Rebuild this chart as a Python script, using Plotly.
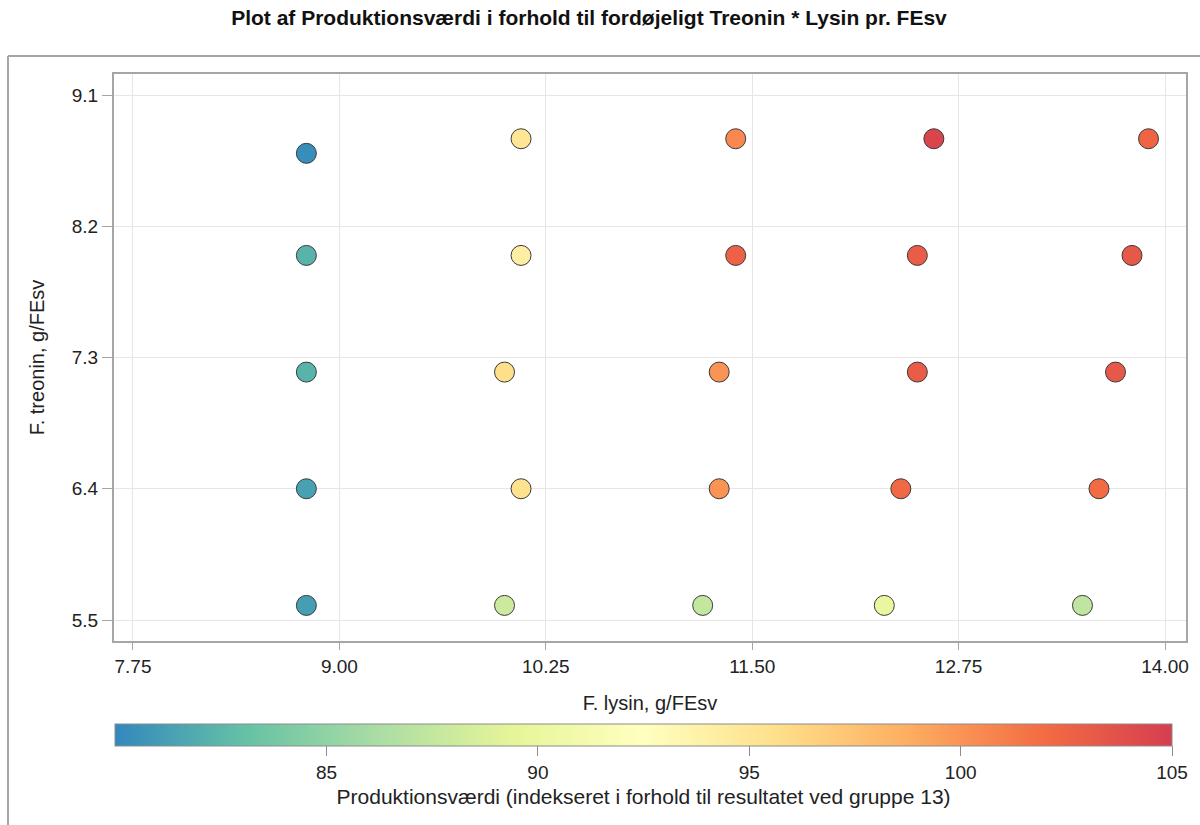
import plotly.graph_objects as go

# Feed composition per group (g per FEsv) and resulting production value index
lysin = [8.8, 8.8, 8.8, 8.8, 8.8,
         10.1, 10.1, 10.0, 10.1, 10.0,
         11.4, 11.4, 11.3, 11.3, 11.2,
         12.6, 12.5, 12.5, 12.4, 12.3,
         13.9, 13.8, 13.7, 13.6, 13.5]
treonin = [8.7, 8.0, 7.2, 6.4, 5.6,
           8.8, 8.0, 7.2, 6.4, 5.6,
           8.8, 8.0, 7.2, 6.4, 5.6,
           8.8, 8.0, 7.2, 6.4, 5.6,
           8.8, 8.0, 7.2, 6.4, 5.6]
produktionsvaerdi = [80.3, 82.3, 82.3, 81.3, 81.2,
                     95.0, 94.2, 95.6, 95.4, 88.0,
                     100.6, 102.6, 100.0, 100.0, 87.5,
                     104.6, 103.0, 103.0, 102.2, 90.0,
                     102.5, 103.3, 103.3, 102.0, 87.3]

x_ticks = [7.75, 9.00, 10.25, 11.50, 12.75, 14.00]
y_ticks = [5.5, 6.4, 7.3, 8.2, 9.1]
cbar_ticks = [85, 90, 95, 100, 105]

spectral9 = ["#3288bd", "#66c2a5", "#abdda4", "#e6f598", "#ffffbf",
             "#fee08b", "#fdae61", "#f46d43", "#d53e4f"]
colorscale = [[i / (len(spectral9) - 1), c] for i, c in enumerate(spectral9)]

FONT = "Liberation Sans, Arial, sans-serif"
GRID = "#e6e6e6"
FRAME = "#a6a6a6"

fig = go.Figure(go.Scatter(
    x=lysin, y=treonin, mode="markers",
    marker=dict(
        size=20, color=produktionsvaerdi, colorscale=colorscale,
        cmin=80, cmax=105,
        line=dict(color="#3a3a3a", width=1),
        colorbar=dict(
            orientation="h", x=0.001, xanchor="left", y=-0.146, yanchor="top",
            lenmode="pixels", len=1057, thickness=22,
            outlinecolor="#8c8c8c", outlinewidth=1,
            tickvals=cbar_ticks, ticks="outside", ticklen=10, tickcolor="#8c8c8c",
            tickfont=dict(family=FONT, size=19, color="#222"),
            title=dict(text="Produktionsværdi (indekseret i forhold til resultatet ved gruppe 13)",
                       side="bottom", font=dict(family=FONT, size=21, color="#222")),
            xpad=0, ypad=0,
        ),
    ),
    hoverinfo="x+y",
))

fig.update_layout(
    width=1200, height=825,
    margin=dict(l=114, r=14, t=74, b=184),
    paper_bgcolor="white", plot_bgcolor="white",
    font=dict(family=FONT, size=19, color="#222"),
    title=dict(text="<b>Plot af Produktionsværdi i forhold til fordøjeligt Treonin * Lysin pr. FEsv</b>",
               x=589 / 1200, xanchor="center", y=1 - 18 / 825, yanchor="middle",
               font=dict(family=FONT, size=21, color="#111")),
    showlegend=False,
    xaxis=dict(
        range=[7.635, 14.127], tickvals=x_ticks, ticktext=[f"{v:.2f}" for v in x_ticks],
        showgrid=True, gridcolor=GRID, zeroline=False,
        showline=True, linecolor=FRAME, linewidth=2, mirror=True,
        ticks="outside", ticklen=7, tickcolor=FRAME,
        title=dict(text="F. lysin, g/FEsv", font=dict(size=20), standoff=20),
    ),
    yaxis=dict(
        range=[5.356, 9.244], tickvals=y_ticks, ticktext=[f"{v:.1f}" for v in y_ticks],
        showgrid=True, gridcolor=GRID, zeroline=False,
        showline=True, linecolor=FRAME, linewidth=2, mirror=True,
        ticks="outside", ticklen=10, tickcolor=FRAME,
        title=dict(text="F. treonin, g/FEsv", font=dict(size=20), standoff=22),
    ),
    shapes=[
        dict(type="line", xref="paper", yref="paper",
             x0=(8 - 114) / 1072, x1=(1200 - 114) / 1072,
             y0=(641 - 56) / 567, y1=(641 - 56) / 567,
             line=dict(color=FRAME, width=2)),
        dict(type="line", xref="paper", yref="paper",
             x0=(8 - 114) / 1072, x1=(8 - 114) / 1072,
             y0=(641 - 56) / 567, y1=(641 - 830) / 567,
             line=dict(color=FRAME, width=2)),
    ],
)

fig.write_html("out.html")
